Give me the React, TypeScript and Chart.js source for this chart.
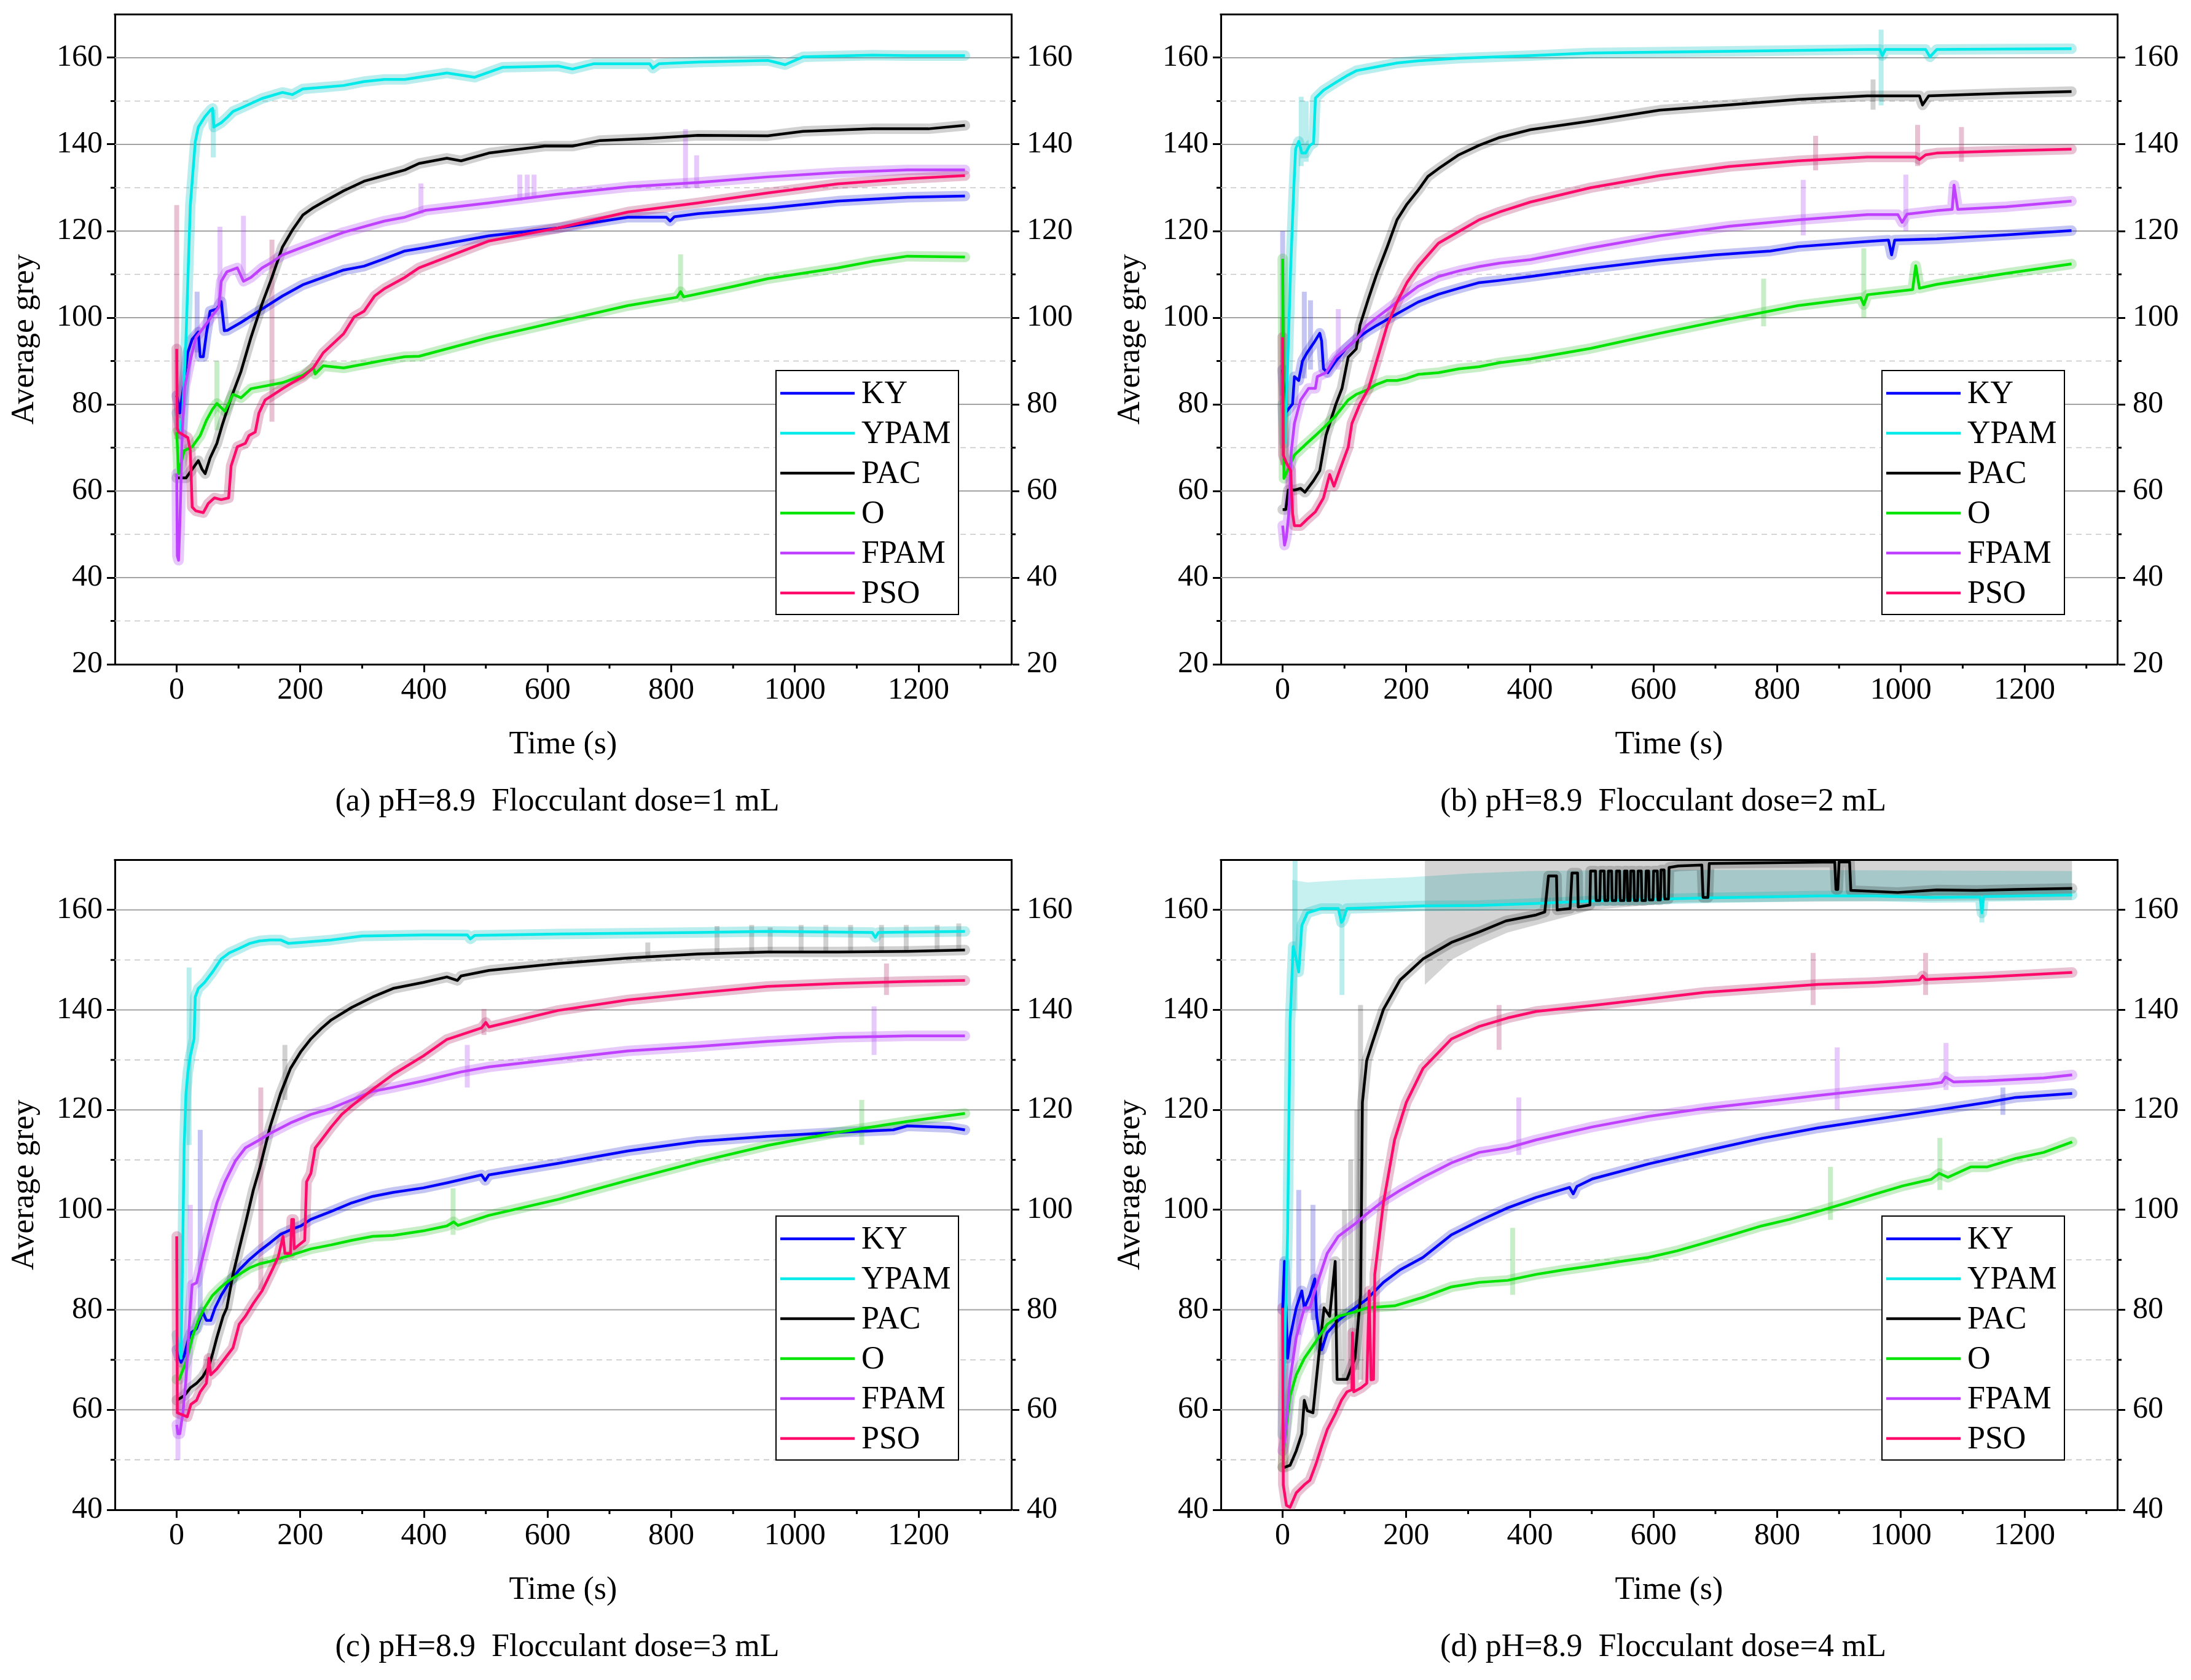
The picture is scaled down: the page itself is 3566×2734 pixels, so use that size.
import { useEffect, useRef } from 'react';
import { Chart, registerables } from 'chart.js';

Chart.register(...registerables);

const FONT = '"Liberation Serif", "Times New Roman", Tinos, "DejaVu Serif", serif';
Chart.defaults.font.family = FONT;
Chart.defaults.color = '#000';

const SERIES = ['KY', 'YPAM', 'PAC', 'O', 'FPAM', 'PSO'];
const LINE_COLORS = ['#0000ff', '#00eaea', '#000000', '#00e400', '#bf40ff', '#ff0a6a'];
const BAND_COLORS = [
  'rgba(40,40,210,0.27)',
  'rgba(0,190,190,0.27)',
  'rgba(0,0,0,0.18)',
  'rgba(40,190,40,0.26)',
  'rgba(170,60,240,0.28)',
  'rgba(180,50,110,0.3)',
];

// ---- (a) dose 1 mL : [time s, average grey]
const aKY = [[0,82],[3,80],[5,78],[12,85],[18,92],[25,95],[35,96.7],[38,91],[43,91],[48,96.3],[54,101.5],[65,102],[72,103.7],[77,97],[82,97.1],[104,98.9],[138,102],[171,105],[204,107.6],[237,109.3],[270,111],[303,111.9],[336,113.6],[369,115.4],[403,116.2],[505,118.9],[617,120.7],[730,123.2],[792,123.2],[798,122.3],[805,123.3],[843,124],[956,125.3],[1069,126.9],[1182,127.8],[1275,128.1]];
const aYPAM = [[0,78],[8,73],[15,95],[19,113],[22,126],[30,140.6],[35,144],[45,146.3],[55,148],[58,148.3],[60,144],[72,145],[82,146.3],[91,147.6],[104,148.4],[138,150.6],[171,152],[187,151.5],[204,152.8],[237,153.2],[270,153.6],[303,154.5],[336,155],[369,155],[437,156.5],[482,155.5],[527,157.8],[617,158.1],[640,157.4],[674,158.6],[765,158.6],[770,157.6],[780,158.6],[843,159],[956,159.4],[984,158.4],[1013,160.2],[1125,160.6],[1182,160.5],[1275,160.5]];
const aPAC = [[0,63],[15,63],[25,65],[35,67],[41,65],[46,64],[54,67.6],[65,71],[74,75.4],[88,81.5],[104,87.6],[120,95.4],[138,103.2],[154,109.3],[171,116.3],[187,120.2],[204,123.7],[221,125.4],[237,126.7],[270,129.3],[303,131.5],[336,132.8],[369,134.1],[392,135.6],[437,136.8],[460,136.2],[505,138],[595,139.6],[640,139.6],[685,140.9],[764,141.4],[843,142.1],[956,142],[1013,143],[1125,143.6],[1216,143.6],[1275,144.4]];
const aO = [[0,73.6],[3,64],[12,69.3],[25,70.2],[38,72.8],[48,76.3],[58,78.9],[65,80.2],[78,78.4],[91,82.3],[104,81.5],[120,83.6],[138,84.1],[171,85],[204,86.7],[221,88.4],[224,87],[237,88.9],[270,88.4],[303,89.3],[336,90.2],[369,91],[392,91.1],[505,95.4],[617,99.1],[730,102.8],[809,104.7],[815,106],[820,104.8],[900,107.2],[956,109],[1069,111.5],[1125,113],[1182,114.2],[1275,114]];
const aFPAM = [[0,64],[1,45],[3,44],[5,52],[9,73.6],[13,84],[22,90.2],[31,95.4],[45,98],[58,100.6],[68,102.4],[72,108.4],[81,110.6],[98,111.5],[108,108.4],[120,109.3],[138,111.5],[154,112.8],[171,114.5],[204,116.3],[237,118],[270,119.7],[303,121],[336,122.3],[369,123.2],[403,124.8],[505,126.5],[617,128.5],[730,130.2],[843,131.2],[956,132.5],[1069,133.5],[1182,134.1],[1275,134.1]];
const aPSO = [[0,92.8],[1,74.5],[3,73.6],[12,72.8],[18,72.3],[22,69.3],[25,56.3],[31,55.4],[43,55],[51,57.1],[61,58.4],[72,58],[84,58.4],[88,65.8],[98,70.2],[111,71],[117,72.8],[127,73.6],[133,78],[143,81],[157,82.3],[171,83.6],[187,85],[204,86.3],[221,88.4],[237,91.9],[270,96.3],[287,100.2],[303,101.5],[320,105],[336,106.7],[369,109.3],[392,111.5],[505,117.7],[617,120.7],[730,124.4],[843,126.5],[956,128.8],[1069,130.9],[1182,132.1],[1275,132.8]];
// vertical spikes in the pale raw-data band: [series, time, high, low]
const aSpikes = [[5,0,126,72],[4,70,121,103],[4,108,123.5,109],[0,33,106,92],[5,154,118,76],[4,395,131,124],[4,555,133,127],[4,567,133,127.5],[4,578,133,128],[4,823,143.5,130],[4,841,137.5,130],[3,815,114.6,104],[1,59,148,137],[3,65,90,74]];

// ---- (b) dose 2 mL
const bKY = [[0,88],[3,81.4],[6,78.3],[11,79.2],[16,80.1],[19,86.4],[26,85.5],[32,90],[39,91.8],[50,94.1],[60,96.4],[63,94.6],[66,88.2],[73,87.3],[86,90],[102,92.8],[119,95],[136,96.8],[152,98.2],[185,100.9],[219,103.6],[252,105.4],[285,106.8],[318,108.1],[351,108.6],[401,109.5],[498,111.4],[610,113.3],[700,114.5],[789,115.4],[834,116.4],[946,117.6],[980,117.9],[985,114.5],[990,117.9],[1058,118.2],[1170,119.1],[1276,120.1]];
const bYPAM = [[0,80],[3,71],[8,89],[13,111.8],[18,129.9],[21,139],[26,140.7],[31,138],[37,138],[44,139.8],[50,140.3],[53,150.7],[66,152.5],[86,154.3],[102,155.7],[119,157],[152,157.9],[185,158.8],[219,159.3],[285,159.9],[401,160.5],[498,161.1],[722,161.5],[946,161.9],[966,161.9],[970,160.5],[975,161.9],[1040,161.9],[1047,160.2],[1058,161.9],[1276,162.1]];
const bPAC = [[0,55.7],[5,55.7],[9,60.2],[19,60.2],[29,60.6],[36,59.7],[50,62.4],[60,64.7],[70,72.8],[86,80],[96,83.7],[106,90.9],[119,92.8],[125,98.2],[139,104.5],[152,110],[169,116.3],[185,122.6],[201,126.2],[219,129.4],[235,132.6],[252,134.4],[285,137.6],[318,139.8],[351,141.6],[401,143.4],[498,145.4],[610,147.9],[722,149.1],[834,150.4],[946,151.2],[1030,151.2],[1035,149.1],[1045,151.2],[1170,151.8],[1276,152.2]];
const bO = [[0,113.6],[2,62.9],[19,68.3],[36,70.6],[53,72.8],[70,75.1],[86,77.4],[96,79.2],[106,81],[119,82.3],[136,83.3],[152,84.6],[169,85.5],[185,85.5],[201,86],[219,86.9],[252,87.3],[285,88.2],[318,88.7],[351,89.6],[401,90.5],[498,92.9],[610,96.4],[722,99.7],[834,102.8],[935,104.6],[940,103],[946,105.3],[1019,106.5],[1024,112],[1030,106.8],[1058,107.7],[1170,110.2],[1276,112.4]];
const bFPAM = [[0,52],[3,47.5],[6,49.3],[10,54.8],[14,69.2],[19,75.6],[29,81],[42,83.7],[53,83.7],[56,86.4],[70,87.3],[86,90.9],[102,92.8],[119,95],[136,98.2],[152,100],[185,103.6],[219,107.2],[252,109.5],[285,110.8],[318,111.8],[351,112.6],[401,113.4],[498,116.1],[610,118.9],[722,121.1],[834,122.6],[946,123.8],[995,123.8],[1002,122],[1010,123.9],[1058,124.7],[1083,125],[1086,130.6],[1092,125],[1170,125.6],[1276,126.9]];
const bPSO = [[0,95.5],[1,68.3],[6,66.5],[13,64.7],[16,54.8],[19,52],[29,52],[39,53.4],[53,55.2],[66,58.4],[76,63.8],[83,61.1],[92,64.7],[106,70.1],[112,75.6],[125,80.1],[139,83.7],[152,90],[169,98.2],[185,103.6],[201,108.1],[219,111.8],[252,117.2],[285,119.9],[318,122.6],[351,124.4],[401,126.7],[498,130],[610,132.8],[722,134.9],[834,136.2],[946,137.1],[1024,137.1],[1030,136.5],[1040,137.6],[1058,138],[1170,138.5],[1276,138.9]];
const bSpikes = [[1,968,166.5,149],[1,30,151,135],[1,38,150,136],[0,0,120,82],[0,35,106,86],[0,45,104,88],[4,90,102,88],[3,778,109,98],[3,940,116,100],[4,842,131.8,119],[4,1008,133,120],[5,862,142,134],[5,1027,144.5,135],[5,1098,144,136],[2,955,155,148],[5,0,100,66]];

// ---- (c) dose 3 mL
const cKY = [[0,72],[7,69.5],[12,70.8],[18,73.7],[23,75.4],[32,76.2],[42,79.6],[48,77.9],[55,77.9],[62,80.4],[72,82.9],[85,85.5],[101,88],[118,90.1],[134,91.8],[151,93.4],[168,95.1],[184,96],[201,96.8],[217,98.1],[250,99.7],[283,101.4],[317,102.7],[350,103.5],[399,104.4],[437,105.4],[493,107],[499,105.9],[505,107],[617,109.3],[730,111.8],[843,113.7],[956,114.7],[1069,115.5],[1159,116],[1182,116.8],[1250,116.5],[1275,116]];
const cYPAM = [[0,75],[7,70.3],[10,95.5],[12,112.4],[15,123.3],[18,127.5],[22,130.8],[28,134.2],[30,142.6],[35,144.3],[45,145.5],[58,147.6],[72,150.2],[85,151.4],[101,152.3],[118,153.3],[134,153.8],[151,154],[168,154],[181,153.3],[201,153.5],[250,154],[300,154.8],[399,155],[470,155],[475,154.2],[482,154.9],[617,155.2],[843,155.5],[956,155.7],[1125,155.5],[1130,154.5],[1135,155.5],[1275,155.7]];
const cPAC = [[0,61.9],[12,62.8],[22,64.4],[32,65.3],[42,66.6],[52,68.7],[58,71.2],[65,74.5],[75,78.7],[81,80.4],[91,87.1],[101,92.2],[111,97.2],[124,104],[134,108.2],[151,116.6],[168,123.3],[184,128.3],[201,131.7],[217,134.2],[234,136.3],[250,138],[283,140.5],[317,142.6],[350,144.3],[399,145.5],[437,146.6],[454,145.9],[460,146.8],[505,147.9],[617,149.3],[730,150.4],[843,151.2],[956,151.6],[1069,151.6],[1182,151.7],[1275,152]];
const cO = [[0,66.1],[4,66.1],[15,69.5],[25,74.5],[35,77.9],[45,80.4],[58,82.9],[72,84.6],[85,85.9],[101,87.1],[118,88.4],[134,89.2],[151,89.7],[184,90.9],[217,92.2],[250,93],[283,93.9],[317,94.7],[350,94.9],[399,95.8],[437,96.8],[448,97.6],[455,96.9],[505,98.9],[617,102.1],[730,105.9],[843,109.6],[956,112.9],[1069,115.5],[1182,117.7],[1275,119.3]];
const cFPAM = [[0,57],[2,55.2],[5,55.2],[10,59.4],[15,66.1],[22,80.4],[25,85],[32,85.4],[42,90.5],[52,95.5],[65,101.4],[78,105.6],[95,109.8],[111,112.4],[134,114],[151,115.3],[184,117.4],[217,119.1],[250,120.3],[283,122],[317,123.7],[350,124.5],[399,125.8],[460,127.6],[505,128.6],[617,130.2],[730,131.8],[843,132.7],[956,133.7],[1069,134.5],[1182,134.8],[1275,134.8]];
const cPSO = [[0,94.7],[1,59.4],[9,59],[17,58.6],[23,61.1],[32,61.9],[38,63.6],[48,65.3],[52,70.3],[55,67],[65,68.2],[78,70.3],[91,72.4],[101,77.1],[111,78.7],[124,81.3],[138,83.8],[151,87.1],[164,90.5],[172,94.7],[175,91.3],[184,91.3],[186,98.1],[189,98.1],[190,92.2],[207,93.9],[210,105.6],[217,107.3],[224,112.4],[234,114],[250,116.6],[267,119.1],[283,120.8],[317,124.1],[350,127.1],[399,130.8],[437,134.1],[493,136.4],[500,137.5],[505,136.6],[617,139.9],[730,142],[843,143.4],[956,144.7],[1069,145.3],[1182,145.7],[1275,145.9]];
const cSpikes = [[5,136,124.5,84],[2,175,133,122],[1,20,148.5,113],[0,38,116,78],[4,22,101,80],[4,2,61,50],[4,470,133,124.5],[4,1128,140.7,131],[5,497,140.2,135],[5,1148,149.3,143],[3,447,104.3,95],[3,1108,122,113],[2,762,153.5,150.7],[2,874,156.8,151],[2,930,157,151.2],[2,960,156.5,151.3],[2,1010,157,151.5],[2,1050,157,151.5],[2,1090,157,151.5],[2,1140,157,151.6],[2,1180,157,151.6],[2,1230,157,151.7],[2,1265,157.3,151.8]];

// ---- (d) dose 4 mL
const dKY = [[0,80],[3,89.7],[8,70.3],[12,74.5],[22,80.4],[31,83.8],[35,80.4],[44,82.9],[52,86.2],[55,78.7],[63,72],[72,75.4],[90,77.9],[117,80.4],[136,82.1],[163,85.5],[190,88],[227,90.5],[273,95],[318,97.8],[364,100.4],[410,102.5],[464,104.5],[470,103.2],[476,104.7],[501,106.2],[592,109.2],[683,111.8],[775,114.3],[866,116.4],[957,118.1],[1049,119.8],[1140,121.5],[1186,122.5],[1277,123.3]];
const dYPAM = [[0,55],[8,95.5],[12,137.6],[17,152.7],[22,150.2],[26,147.6],[31,156.9],[40,159.4],[63,160.3],[90,160.3],[95,157.5],[98,158],[104,160.3],[136,160.4],[227,160.8],[318,160.9],[410,161.3],[501,161.8],[592,162.1],[683,162.4],[775,162.6],[866,162.8],[957,162.8],[1049,162.5],[1128,162.6],[1131,159.4],[1134,162.7],[1277,163]];
const dPAC = [[0,48.5],[3,48.5],[12,48.9],[22,51.8],[31,55.2],[35,61.9],[40,59.8],[49,59.4],[58,70.3],[67,80.4],[76,78.7],[85,89.7],[88,66.1],[104,66.1],[117,70.3],[126,82.9],[129,121.5],[136,129.9],[145,133.4],[163,140.1],[190,146],[227,150.2],[273,153.5],[318,155.6],[361,157.8],[410,159],[424,159.6],[430,166.8],[443,166.8],[444,160],[465,160.3],[468,167.4],[477,167.4],[478,160.6],[497,161],[498,167.8],[506,167.8],[507,161.9],[513,161.9],[514,167.8],[520,167.8],[521,161.9],[526,161.9],[527,167.8],[532,167.8],[533,161.9],[539,161.9],[540,167.8],[545,167.8],[546,161.9],[552,161.9],[553,167.8],[557,167.8],[558,161.9],[562,161.9],[563,167.8],[568,167.8],[569,161.9],[574,161.9],[575,167.8],[580,167.8],[581,161.9],[587,161.9],[588,167.8],[592,167.8],[593,162],[599,162],[600,167.8],[606,167.8],[607,162],[611,162],[612,168],[617,168],[618,162.2],[624,162.2],[625,168.5],[640,168.8],[678,169],[680,162.5],[688,162.5],[690,169.3],[893,169.6],[895,164.1],[898,164.1],[900,169.6],[917,169.6],[919,163.9],[995,163.5],[1058,164],[1122,163.9],[1185,164.1],[1277,164.3]];
const dO = [[0,48.5],[3,53.5],[12,62.8],[22,67],[35,70.3],[54,73.7],[72,77.1],[90,78.7],[117,79.6],[136,80.4],[181,80.8],[227,82.5],[273,84.6],[318,85.5],[364,85.9],[410,87.1],[455,88],[501,88.8],[547,89.7],[592,90.5],[638,91.8],[683,93.4],[729,95.1],[775,96.8],[820,98.1],[866,99.7],[912,101.4],[957,103.1],[1003,104.8],[1049,106.1],[1062,107.3],[1076,106.5],[1113,108.6],[1140,108.6],[1186,110.3],[1231,111.5],[1277,113.6]];
const dFPAM = [[0,51.8],[3,53.5],[12,66.1],[22,74.5],[35,80.4],[44,80.4],[54,84.6],[72,91.3],[90,94.7],[117,97.2],[136,99.2],[163,101.8],[190,103.9],[227,106.5],[273,109.4],[318,111.5],[364,112.4],[410,114],[455,115.3],[501,116.6],[592,118.7],[683,120.3],[775,121.6],[866,122.9],[957,124.1],[1049,125.2],[1066,125.5],[1072,126.6],[1085,125.6],[1140,125.8],[1231,126.4],[1277,127]];
const dPSO = [[0,80.4],[1,45],[6,40.9],[12,40.5],[22,43.4],[35,45],[44,45.9],[54,49.2],[63,52.7],[72,56],[86,59.4],[95,61.9],[104,63.6],[112,64],[113,75.4],[115,63.6],[127,64.4],[136,65.3],[140,83.8],[143,66],[147,66.1],[149,87.1],[163,101.4],[181,114],[200,121.5],[227,128.3],[273,134.2],[318,136.7],[364,138.4],[410,139.7],[501,140.9],[592,142.2],[683,143.5],[775,144.3],[866,145.1],[957,145.5],[1030,146],[1035,146.8],[1040,146.1],[1140,146.6],[1277,147.5]];
const dSpikes = [[1,20,170,140],[1,96,160,143],[1,1131,161,157.5],[2,126,141,66],[2,100,100,66],[2,110,110,66],[2,120,120,68],[0,26,104,75],[0,49,101,78],[4,382,122.5,111],[4,897,132.5,120],[4,1073,133.4,124],[5,350,141,132],[5,858,151.4,141],[5,1040,151.4,143],[3,372,96.4,83],[3,886,108.6,98],[3,1063,114.4,104],[0,1165,124.5,119]];
// pale flicker regions in (d): lower edge of the grey PAC region, upper edge of the cyan YPAM region
const dPACShade = [[230,145],[273,150],[318,153],[364,155.5],[410,157],[455,158.5],[500,160],[640,161.5],[1277,162]];
const dYPAMShade = [[15,166],[40,165.5],[100,166],[200,166.5],[300,167.3],[400,167.8],[560,168],[800,168],[1277,167.8]];

const PANELS = [
  { caption: '(a) pH=8.9  Flocculant dose=1 mL', yMin: 20, lines: [aKY, aYPAM, aPAC, aO, aFPAM, aPSO], spikes: aSpikes, shades: [], left: 0, top: 0, w: 1790, h: 1376 },
  { caption: '(b) pH=8.9  Flocculant dose=2 mL', yMin: 20, lines: [bKY, bYPAM, bPAC, bO, bFPAM, bPSO], spikes: bSpikes, shades: [], left: 1800, top: 0, w: 1766, h: 1376 },
  { caption: '(c) pH=8.9  Flocculant dose=3 mL', yMin: 40, lines: [cKY, cYPAM, cPAC, cO, cFPAM, cPSO], spikes: cSpikes, shades: [], left: 0, top: 1376, w: 1790, h: 1358 },
  {
    caption: '(d) pH=8.9  Flocculant dose=4 mL', yMin: 40, lines: [dKY, dYPAM, dPAC, dO, dFPAM, dPSO], spikes: dSpikes,
    shades: [
      { data: dPACShade, fill: 'end', color: 'rgba(0,0,0,0.17)' },
      { data: dYPAMShade, fill: 1, color: 'rgba(0,190,190,0.22)' },
    ],
    left: 1800, top: 1376, w: 1766, h: 1358,
  },
];

const PLOT_LEFT = 187;
const PLOT_RIGHT = 1646;
const PLOT_TOP = 23.5;
const PLOT_BOTTOM = 1081;

const toXY = (pts) => pts.map(([x, y]) => ({ x, y }));

function decor(caption) {
  const seg = (ctx, x1, y1, x2, y2) => {
    ctx.beginPath();
    ctx.moveTo(x1, y1);
    ctx.lineTo(x2, y2);
    ctx.stroke();
  };
  return {
    id: 'decor',
    beforeDatasetsDraw(chart) {
      const { ctx, chartArea, scales } = chart;
      const y = scales.y;
      ctx.save();
      for (let v = y.min + 10; v < y.max; v += 10) {
        const py = y.getPixelForValue(v);
        if (v % 20 === 0) {
          ctx.setLineDash([]);
          ctx.strokeStyle = '#a3a3a3';
          ctx.lineWidth = 2;
        } else {
          ctx.setLineDash([9, 7]);
          ctx.strokeStyle = '#c6c6c6';
          ctx.lineWidth = 1.6;
        }
        seg(ctx, chartArea.left, py, chartArea.right, py);
      }
      ctx.restore();
    },
    afterDatasetsDraw(chart) {
      const { ctx, chartArea, scales } = chart;
      const { left, right, top, bottom } = chartArea;
      ctx.save();
      ctx.setLineDash([]);
      ctx.strokeStyle = '#000';
      ctx.lineWidth = 3;
      for (let v = scales.y.min + 10; v < scales.y.max; v += 20) {
        const py = scales.y.getPixelForValue(v);
        seg(ctx, left - 7, py, left, py);
        seg(ctx, right, py, right + 7, py);
      }
      for (let t = 100; t < scales.x.max; t += 200) {
        const px = scales.x.getPixelForValue(t);
        seg(ctx, px, bottom, px, bottom + 7);
      }
      seg(ctx, left - 1.5, top, right + 1.5, top);

      // legend
      const lx = 1263;
      const ly = 603;
      ctx.fillStyle = '#fff';
      ctx.fillRect(lx, ly, 297, 397);
      ctx.lineWidth = 2;
      ctx.strokeRect(lx, ly, 297, 397);
      ctx.font = `52px ${FONT}`;
      ctx.textBaseline = 'middle';
      ctx.textAlign = 'left';
      SERIES.forEach((name, i) => {
        const ry = 640 + i * 65;
        ctx.strokeStyle = LINE_COLORS[i];
        ctx.lineWidth = 4.5;
        seg(ctx, 1270, ry, 1391, ry);
        ctx.fillStyle = '#000';
        ctx.fillText(name, 1402, ry + 2);
      });
      ctx.restore();
    },
    afterDraw(chart) {
      const { ctx } = chart;
      ctx.save();
      ctx.font = `52px ${FONT}`;
      ctx.fillStyle = '#000';
      ctx.textAlign = 'center';
      ctx.textBaseline = 'middle';
      ctx.fillText(caption, 907, 1305);
      ctx.restore();
    },
  };
}

function Panel({ cfg }) {
  const canvasRef = useRef(null);

  useEffect(() => {
    const mains = cfg.lines.map((pts, i) => ({
      label: SERIES[i],
      data: toXY(pts),
      borderColor: LINE_COLORS[i],
      borderWidth: 4.5,
      borderJoinStyle: 'round',
      pointRadius: 0,
      fill: false,
      clip: 0,
      order: 6 - i,
    }));
    const bands = cfg.lines.map((pts, i) => ({
      label: SERIES[i] + ' raw',
      data: toXY(pts),
      borderColor: BAND_COLORS[i],
      borderWidth: 17,
      borderJoinStyle: 'round',
      borderCapStyle: 'round',
      pointRadius: 0,
      fill: false,
      clip: 0,
      order: 20 - i,
    }));
    const spikes = cfg.spikes.map(([s, t, hi, lo]) => ({
      label: SERIES[s] + ' spike',
      data: [{ x: t, y: hi }, { x: t, y: lo }],
      borderColor: BAND_COLORS[s],
      borderWidth: 8,
      pointRadius: 0,
      fill: false,
      clip: 0,
      order: 20 - s,
    }));
    const shades = cfg.shades.map((s) => ({
      label: 'shade',
      data: toXY(s.data),
      borderWidth: 0,
      borderColor: 'rgba(0,0,0,0)',
      backgroundColor: s.color,
      pointRadius: 0,
      fill: s.fill,
      clip: 0,
      order: 30,
    }));

    const tickFont = { size: 50, family: FONT };
    const titleFont = { size: 52, family: FONT };
    const plain = (v) => String(v);
    const yTicks = { stepSize: 20, includeBounds: false, font: tickFont, color: '#000', callback: plain };
    const axisGrid = { drawOnChartArea: false, drawTicks: true, tickLength: 13, tickWidth: 3, tickColor: '#000' };
    const axisBorder = { display: true, color: '#000', width: 3 };

    const chart = new Chart(canvasRef.current, {
      type: 'line',
      data: { datasets: [...mains, ...bands, ...spikes, ...shades] },
      options: {
        animation: false,
        responsive: false,
        devicePixelRatio: 1,
        events: [],
        layout: { padding: { left: 0, top: PLOT_TOP, right: 0, bottom: 0 } },
        plugins: { legend: { display: false }, tooltip: { enabled: false }, title: { display: false } },
        scales: {
          x: {
            type: 'linear',
            min: -100,
            max: 1350,
            ticks: { stepSize: 200, includeBounds: false, autoSkip: false, maxRotation: 0, padding: 0, font: tickFont, color: '#000', callback: plain },
            grid: axisGrid,
            border: axisBorder,
            title: { display: true, text: 'Time (s)', font: titleFont, color: '#000', padding: { top: 0, bottom: cfg.h - 1212 - 31.2 } },
            afterFit: (s) => {
              s.height = cfg.h - PLOT_BOTTOM;
              s.paddingLeft = 0;
              s.paddingRight = 0;
            },
          },
          y: {
            type: 'linear',
            position: 'left',
            min: cfg.yMin,
            max: 170,
            ticks: { ...yTicks, padding: 7 },
            grid: axisGrid,
            border: axisBorder,
            title: { display: true, text: 'Average grey', font: titleFont, color: '#000', padding: { top: 9, bottom: 0 } },
            afterFit: (s) => {
              s.width = PLOT_LEFT;
              s.paddingTop = 0;
              s.paddingBottom = 0;
            },
          },
          y2: {
            type: 'linear',
            position: 'right',
            min: cfg.yMin,
            max: 170,
            ticks: { ...yTicks, padding: 12 },
            grid: axisGrid,
            border: axisBorder,
            afterFit: (s) => {
              s.width = cfg.w - PLOT_RIGHT;
              s.paddingTop = 0;
              s.paddingBottom = 0;
            },
          },
        },
      },
      plugins: [decor(cfg.caption)],
    });

    return () => chart.destroy();
  }, [cfg]);

  return (
    <div style={{ position: 'absolute', left: cfg.left, top: cfg.top, width: cfg.w, height: cfg.h }}>
      <canvas ref={canvasRef} width={cfg.w} height={cfg.h} style={{ width: cfg.w, height: cfg.h, display: 'block' }} />
    </div>
  );
}

export default function App() {
  return (
    <div style={{ position: 'absolute', left: 0, top: 0, width: 3566, height: 2734, background: '#fff' }}>
      {PANELS.map((cfg) => (
        <Panel key={cfg.caption} cfg={cfg} />
      ))}
    </div>
  );
}
